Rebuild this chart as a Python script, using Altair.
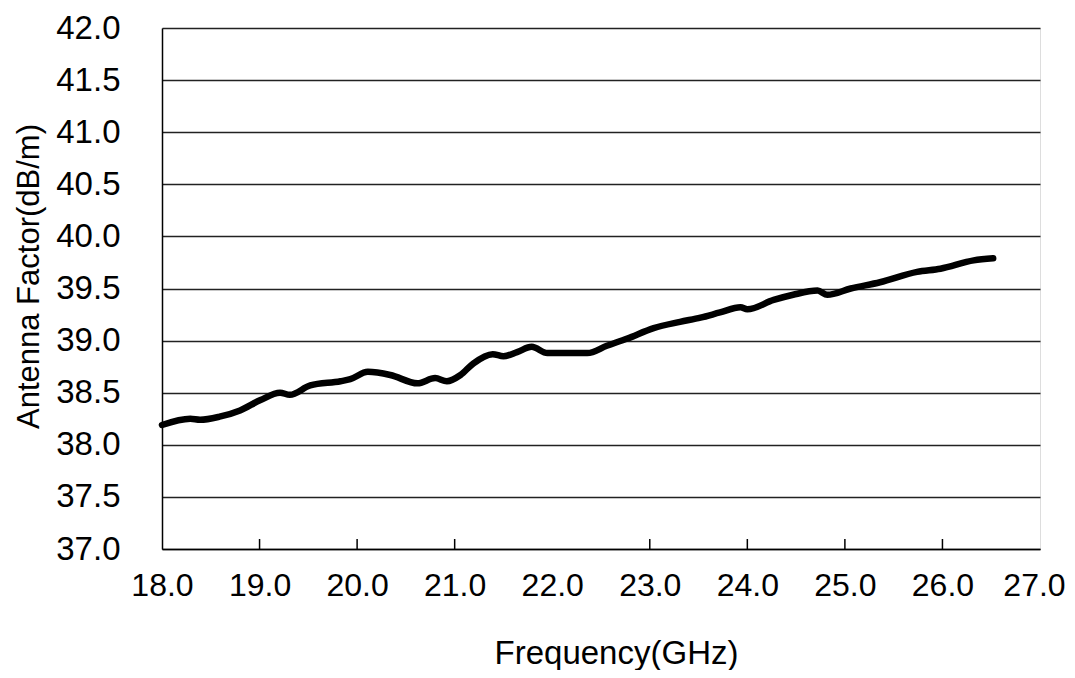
import altair as alt
import pandas as pd

freq = [18.0, 18.29, 18.39, 18.59, 18.80, 19.01, 19.21, 19.31, 19.52, 19.83, 19.93,
        20.11, 20.34, 20.62, 20.80, 20.92, 21.06, 21.19, 21.39, 21.50, 21.64, 21.79,
        21.95, 22.22, 22.36, 22.56, 22.77, 23.04, 23.31, 23.52, 23.72, 23.93, 24.00,
        24.27, 24.47, 24.72, 24.82, 25.06, 25.36, 25.74, 25.98, 26.32, 26.52]
af = [38.19, 38.25, 38.24, 38.27, 38.33, 38.43, 38.50, 38.48, 38.57, 38.61, 38.63,
      38.70, 38.67, 38.59, 38.64, 38.61, 38.67, 38.78, 38.87, 38.85, 38.89, 38.94,
      38.88, 38.88, 38.88, 38.95, 39.02, 39.12, 39.18, 39.22, 39.27, 39.32, 39.30,
      39.39, 39.44, 39.48, 39.44, 39.50, 39.56, 39.66, 39.69, 39.77, 39.79]
x_ticks = [19.0, 20.0, 21.0, 23.0, 24.0, 25.0, 26.0]
x_labels = [18.0, 19.0, 20.0, 21.0, 22.0, 23.0, 24.0, 25.0, 26.0, 27.0]
y_labels = [37.0, 37.5, 38.0, 38.5, 39.0, 39.5, 40.0, 40.5, 41.0, 41.5, 42.0]

W, H = 878, 521
FONT = "Liberation Sans"

df = pd.DataFrame({"f": freq, "a": af})
tdf = pd.DataFrame({"t": x_ticks})

xscale = alt.Scale(domain=[18, 27], nice=False, zero=False)
yscale = alt.Scale(domain=[37, 42], nice=False, zero=False)

line = alt.Chart(df).mark_line(color="black", strokeWidth=6.5, strokeJoin="round",
                               strokeCap="round", interpolate="monotone").encode(
    x=alt.X("f:Q", scale=xscale,
            axis=alt.Axis(title="Frequency(GHz)", values=x_labels, format=".1f",
                          grid=False, ticks=False, domainColor="black", domainWidth=1.5,
                          labelFont=FONT, labelFontSize=32, labelColor="black",
                          labelPadding=21, labelFlush=False,
                          labelOffset=alt.condition("datum.value == 27", alt.value(-6), alt.value(0)),
                          titleFont=FONT, titleFontSize=33, titleFontWeight="normal",
                          titleColor="black", titleX=454, titleY=114,
                          titleAlign="center", titleBaseline="alphabetic")),
    y=alt.Y("a:Q", scale=yscale,
            axis=alt.Axis(title="Antenna Factor(dB/m)", values=y_labels, format=".1f",
                          grid=True, gridColor="#222222", gridWidth=1.5, ticks=False,
                          domainColor="black", domainWidth=1.5,
                          labelFont=FONT, labelFontSize=33, labelColor="black",
                          labelPadding=42, labelFlush=False,
                          titleFont=FONT, titleFontSize=31, titleFontWeight="normal",
                          titleColor="black", titleX=-124, titleY=248, titleAngle=270,
                          titleAlign="center", titleBaseline="alphabetic")),
)

ticks = alt.Chart(tdf).mark_rule(color="black", strokeWidth=1.5).encode(
    x=alt.X("t:Q", scale=xscale),
    y=alt.value(H),
    y2=alt.value(H - 10),
)

chart = alt.layer(line, ticks).properties(
    width=W, height=H,
    autosize=alt.AutoSizeParams(type="none"),
    padding={"left": 154, "top": 20, "right": 27, "bottom": 121},
).configure_view(stroke="black", strokeWidth=1.5).configure(background="white")

chart.save("out.html", embed_options={"renderer": "svg", "actions": False})
